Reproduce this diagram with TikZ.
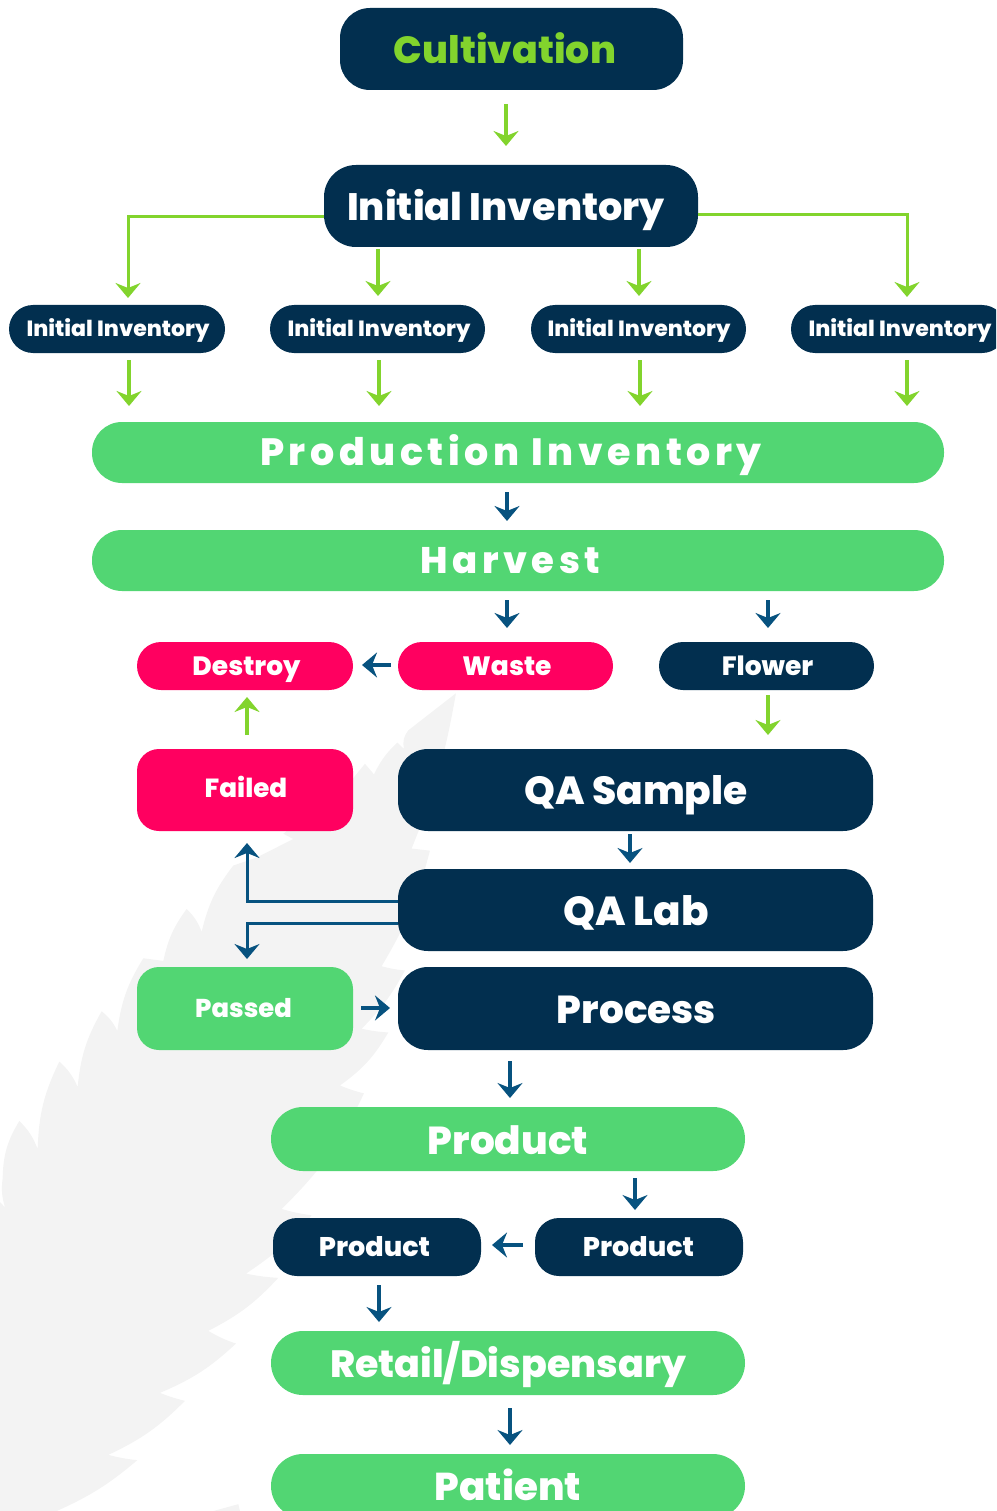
\documentclass[tikz,border=0pt]{standalone}
\usepackage{fontspec}
\setmainfont{Poppins}[BoldFont=Poppins ExtraBold]
\newfontfamily\spaced{Poppins}[BoldFont=Poppins ExtraBold,LetterSpace=12]
\usetikzlibrary{arrows.meta}
\definecolor{navy}{HTML}{022F4F}
\definecolor{mint}{HTML}{52D673}
\definecolor{lime}{HTML}{82D42D}
\definecolor{hotpink}{HTML}{FF0060}
\definecolor{arrowblue}{HTML}{07527F}
\definecolor{leaf}{HTML}{F3F3F3}
\tikzset{
  pill/.style={inner sep=0pt,outer sep=0pt,align=center,text=white,text depth=0pt},
  tipb/.tip={Stealth[length=15pt,width=25pt,inset=5pt]},
  garrow/.style={draw=lime,line width=3.1pt,-tipb},
  barrow/.style={draw=arrowblue,line width=3.1pt,-tipb},
  gline/.style={draw=lime,line width=3pt,-tipb},
  bline/.style={draw=arrowblue,line width=3pt,-tipb},
}
\newcommand{\boxat}[9]{% name x1 y1 x2 y2 radius fill fontsize text
  \path[fill=#7,rounded corners=#6pt] (#2,#3) rectangle (#4,#5);
  \node[pill,text height=0.7*#8 pt,font=\bfseries\fontsize{#8}{#8}\selectfont,minimum width=#4pt-#2pt,minimum height=#5pt-#3pt] (#1) at ({(#2+#4)/2},{(#3+#5)/2}) {#9};
}
% shift a text left, right or vertically inside its box
\newcommand{\tl}[2]{#2\kern#1pt\relax}
\newcommand{\tr}[2]{\kern#1pt\relax#2}
\newcommand{\ty}[2]{\raisebox{#1pt}{#2}}
\begin{document}
\begin{tikzpicture}[x=1pt,y=-1pt]
\useasboundingbox (0,0) rectangle (996,1511);
\clip (0,0) rectangle (996,1511);
% leaf silhouette
\begin{scope}[shift={(0,680)},x=0.3333pt,y=-0.53pt]
\fill[leaf] (0,1568) -- (0,985) -- (15,995) to[bend left=12] (8,940) to[bend left=15] (58,832)
 to[bend left=12] (113,885) to[bend left=12] (178,720) to[bend left=12] (233,768) to[bend left=12] (305,625)
 to[bend left=12] (352,662) to[bend left=12] (430,525) -- (490,530) to[bend left=12] (560,432)
 to[bend left=12] (605,475) to[bend left=12] (700,350) -- (770,335) -- (880,300) -- (850,290) -- (1060,185) -- (1095,158) -- (1122,178)
 to[bend left=10] (1192,118) -- (1212,130) to[bend left=25] (1225,95) -- (1368,25)
 to[bend left=6] (1235,318) -- (1290,322)
 to[bend left=8] (1145,540) to[bend right=5] (1215,548)
 to[bend left=8] (1085,658) to[bend right=4] (1165,665)
 to[bend left=12] (1020,765) to[bend right=4] (1092,780) to[bend left=10] (845,998) to[bend right=4] (935,1010)
 to[bend left=8] (738,1120) to[bend right=4] (835,1128) to[bend left=10] (625,1228) to[bend right=6] (708,1252)
 to[bend left=10] (480,1345) to[bend right=4] (555,1360) to[bend left=10] (325,1462) to[bend right=4] (412,1472)
 to[bend left=8] (170,1568) -- cycle;
\fill[leaf] (640,1568) -- (715,1555) -- (720,1568) -- cycle;
\end{scope}
% boxes
\boxat{cult}{340}{8}{683}{90}{30}{navy}{37.9}{\tl{13}{\ty{-1}{\textcolor{lime}{Cultivation}}}}
\boxat{init}{324}{165}{698}{247}{32}{navy}{38.2}{\tl{10}{\ty{-1}{Initial Inventory}}}
\boxat{ia}{9}{305}{225}{353}{24}{navy}{22}{\tr{2}{Initial Inventory}}
\boxat{ib}{270}{305}{485}{353}{24}{navy}{22}{\tr{3}{Initial Inventory}}
\boxat{ic}{531}{305}{746}{353}{24}{navy}{22}{\tr{1}{Initial Inventory}}
\boxat{id}{791}{305}{1006}{353}{24}{navy}{22}{\tr{3}{Initial Inventory}}
\boxat{prod}{92}{422}{944}{483}{30}{mint}{38}{\tl{14}{\spaced Production Inventory}}
\boxat{harv}{92}{530}{944}{591}{30}{mint}{37}{\tl{15}{\spaced Harvest}}
\boxat{dest}{137}{642}{353}{690}{24}{hotpink}{26.5}{\tr{3}{Destroy}}
\boxat{waste}{398}{642}{613}{690}{24}{hotpink}{26.5}{\tr{3}{Waste}}
\boxat{flow}{659}{642}{874}{690}{24}{navy}{26.5}{\tr{2}{Flower}}
\boxat{fail}{137}{749}{353}{831}{22}{hotpink}{26.2}{\tr{2}{\ty{2}{Failed}}}
\boxat{qas}{398}{749}{873}{831}{30}{navy}{39.2}{\tr{1}{\ty{-1}{QA Sample}}}
\boxat{qal}{398}{869}{873}{951}{30}{navy}{40.5}{\tr{1}{\ty{-1}{QA Lab}}}
\boxat{pass}{137}{967}{353}{1050}{22}{mint}{25.8}{\tl{3}{Passed}}
\boxat{proc}{398}{967}{873}{1050}{30}{navy}{39}{\tr{2}{\ty{-1}{Process}}}
\boxat{pr}{271}{1107}{745}{1171}{32}{mint}{39}{\ty{-1.5}{Product}}
\boxat{pl}{273}{1218}{481}{1276}{24}{navy}{27}{\tl{5}{Product}}
\boxat{prr}{535}{1218}{743}{1276}{24}{navy}{27}{\tl{1}{Product}}
\boxat{ret}{271}{1331}{745}{1395}{32}{mint}{38}{\ty{-1}{Retail/Dispensary}}
\boxat{pat}{271}{1454}{745}{1518}{32}{mint}{38.8}{\ty{-1}{Patient}}
% column helpers
\coordinate (x128) at (128,0); \coordinate (x129) at (129,0); \coordinate (x247) at (247,0);
\coordinate (x378) at (378,0); \coordinate (x379) at (379,0); \coordinate (x506) at (506,0);
\coordinate (x507) at (507,0); \coordinate (x510) at (510,0); \coordinate (x630) at (630,0);
\coordinate (x635) at (635,0); \coordinate (x639) at (639,0); \coordinate (x640) at (640,0);
\coordinate (x768) at (768,0); \coordinate (x907) at (907,0);
\coordinate (y217) at (0,217); \coordinate (y215) at (0,215); \coordinate (y901) at (0,901); \coordinate (y923) at (0,923);
\coordinate (y665) at (0,665); \coordinate (y1008) at (0,1008); \coordinate (y1245) at (0,1245);
% green connectors
\draw[garrow,shorten <=14pt,shorten >=19pt] (cult.south -| x506) -- (x506 |- init.north);
\draw[gline,shorten >=7pt] (init.west |- y217) -| (x128 |- ia.north);
\draw[gline,shorten >=8pt] (init.east |- y215) -| (x907 |- id.north);
\draw[garrow,shorten <=2pt,shorten >=9pt] (x378 |- init.south) -- (x378 |- ib.north);
\draw[garrow,shorten <=2pt,shorten >=9pt] (x639 |- init.south) -- (x639 |- ic.north);
\draw[garrow,shorten <=7pt,shorten >=16pt] (x129 |- ia.south) -- (x129 |- prod.north);
\draw[garrow,shorten <=7pt,shorten >=16pt] (x379 |- ib.south) -- (x379 |- prod.north);
\draw[garrow,shorten <=7pt,shorten >=16pt] (x640 |- ic.south) -- (x640 |- prod.north);
\draw[garrow,shorten <=7pt,shorten >=16pt] (x907 |- id.south) -- (x907 |- prod.north);
\draw[garrow,shorten <=5pt,shorten >=14pt] (x768 |- flow.south) -- (x768 |- qas.north);
\draw[garrow,shorten <=14pt,shorten >=7pt] (x247 |- fail.north) -- (x247 |- dest.south);
% blue connectors
\draw[barrow,shorten <=9pt,shorten >=9pt] (x507 |- prod.south) -- (x507 |- harv.north);
\draw[barrow,shorten <=9pt,shorten >=14pt] (x507 |- harv.south) -- (x507 |- waste.north);
\draw[barrow,shorten <=9pt,shorten >=14pt] (x768 |- harv.south) -- (x768 |- flow.north);
\draw[barrow,shorten <=7pt,shorten >=9pt] (waste.west |- y665) -- (dest.east |- y665);
\draw[barrow,shorten <=3pt,shorten >=6pt] (x630 |- qas.south) -- (x630 |- qal.north);
\draw[bline,shorten >=12pt] (qal.west |- y901) -| (x247 |- fail.south);
\draw[bline,shorten >=8pt] (qal.west |- y923) -| (x247 |- pass.north);
\draw[barrow,shorten <=8pt,shorten >=8pt] (pass.east |- y1008) -- (proc.west |- y1008);
\draw[barrow,shorten <=11pt,shorten >=9pt] (x510 |- proc.south) -- (x510 |- pr.north);
\draw[barrow,shorten <=7pt,shorten >=8pt] (x635 |- pr.south) -- (x635 |- prr.north);
\draw[barrow,shorten <=12pt,shorten >=11pt] (prr.west |- y1245) -- (pl.east |- y1245);
\draw[barrow,shorten <=9pt,shorten >=9pt] (x379 |- pl.south) -- (x379 |- ret.north);
\draw[barrow,shorten <=13pt,shorten >=9pt] (x510 |- ret.south) -- (x510 |- pat.north);
\end{tikzpicture}
\end{document}
